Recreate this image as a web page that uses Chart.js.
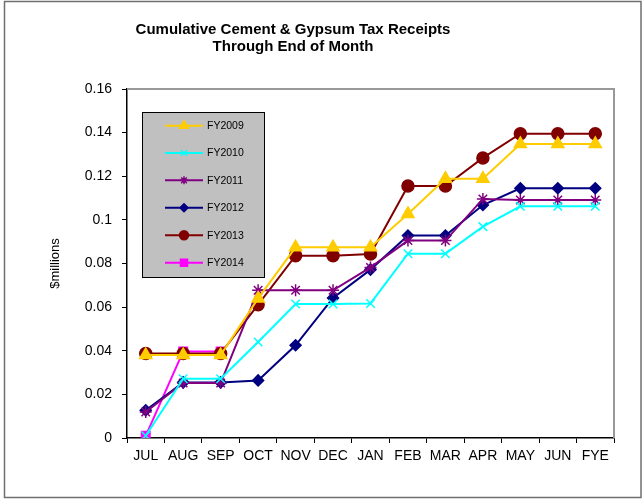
<!DOCTYPE html>
<html>
<head>
<meta charset="utf-8">
<script src="https://cdn.jsdelivr.net/npm/chart.js@4.4.0/dist/chart.umd.min.js"></script>
<style>
html,body{margin:0;padding:0;background:#fff;}
#wrap{width:642px;height:499px;position:relative;}
</style>
</head>
<body>
<div id="wrap"><canvas id="c" width="642" height="499"></canvas></div>
<script>
const months = ["JUL","AUG","SEP","OCT","NOV","DEC","JAN","FEB","MAR","APR","MAY","JUN","FYE"];
const fy2009 = [0.038,0.038,0.038,0.064,0.0874,0.0874,0.0874,0.1027,0.1189,0.1189,0.1348,0.1348,0.1348];
const fy2010 = [0.001,0.0272,0.0272,0.044,0.0614,0.0614,0.0617,0.0845,0.0845,0.0969,0.1062,0.1062,0.1062];
const fy2011 = [0.0119,0.0252,0.0252,0.0677,0.0677,0.0677,0.0782,0.0905,0.0905,0.1096,0.1091,0.1091,0.1091];
const fy2012 = [0.0127,0.0255,0.0255,0.0264,0.0425,0.0642,0.0772,0.0928,0.0928,0.1068,0.1145,0.1145,0.1145];
const fy2013 = [0.0387,0.0387,0.0387,0.0611,0.0836,0.0836,0.0844,0.1155,0.1155,0.1284,0.1395,0.1395,0.1395];
const fy2014 = [0.001,0.0397,0.0397,null,null,null,null,null,null,null,null,null,null];
const yTicks = [0,0.02,0.04,0.06,0.08,0.1,0.12,0.14,0.16];
const titleLines = ["Cumulative Cement & Gypsum Tax Receipts","Through End of Month"];

const FONT = "Arial, 'Liberation Sans', sans-serif";

function ds(label, data, color, style, radius, legendRadius){
  return {label, data, borderColor: color, backgroundColor: color, pointStyle: style,
    pointRadius: radius, pointHoverRadius: radius, borderWidth: 2, pointBorderWidth: 1.5,
    tension: 0, spanGaps: false, legendRadius};
}

const datasets = [
  ds("FY2009", fy2009, "#FFCC00", "triangle", 7, 5),
  ds("FY2010", fy2010, "#00FFFF", "crossRot", 6, 4),
  ds("FY2011", fy2011, "#800080", "star", 6, 4),
  ds("FY2012", fy2012, "#000080", "rectRot", 5.5, 4),
  ds("FY2013", fy2013, "#800000", "circle", 6, 4.5),
  ds("FY2014", fy2014, "#FF00FF", "rect", 6, 5)
];

const decor = {
  id: 'decor',
  beforeDraw(chart){
    const ctx = chart.ctx;
    ctx.save();
    ctx.fillStyle = '#fff';
    ctx.fillRect(0,0,chart.width,chart.height);
    ctx.strokeStyle = '#6f6f6f';
    ctx.lineWidth = 1.5;
    ctx.strokeRect(4.5,1.5,chart.width-5.5,chart.height-3);
    ctx.fillStyle = '#000';
    ctx.font = 'bold 15px ' + FONT;
    ctx.textAlign = 'center';
    ctx.textBaseline = 'middle';
    ctx.fillText(titleLines[0], 293, 30);
    ctx.fillText(titleLines[1], 293, 47);
    ctx.restore();
  },
  afterDatasetsDraw(chart){
    const ctx = chart.ctx;
    const a = chart.chartArea;
    ctx.save();
    ctx.strokeStyle = '#999';
    ctx.lineWidth = 2;
    ctx.beginPath();
    ctx.moveTo(a.left, a.top);
    ctx.lineTo(a.right, a.top);
    ctx.lineTo(a.right, a.bottom);
    ctx.stroke();
    // legend
    const bx = 142, by = 112, bw = 122, bh = 165;
    ctx.fillStyle = '#c0c0c0';
    ctx.fillRect(bx, by, bw, bh);
    ctx.strokeStyle = '#000';
    ctx.lineWidth = 1;
    ctx.strokeRect(bx+0.5, by+0.5, bw, bh);
    const ys = [125.7,153,180.3,207.7,235.3,262.7];
    chart.data.datasets.forEach((d,i)=>{
      const y = ys[i];
      ctx.strokeStyle = d.borderColor;
      ctx.lineWidth = 2;
      ctx.beginPath();
      ctx.moveTo(165, y);
      ctx.lineTo(203, y);
      ctx.stroke();
      ctx.fillStyle = d.borderColor;
      ctx.strokeStyle = d.borderColor;
      ctx.lineWidth = 1.5;
      Chart.helpers.drawPoint(ctx, {pointStyle: d.pointStyle, radius: d.legendRadius, rotation: 0, borderWidth: 1.5}, 184, y);
      ctx.fillStyle = '#000';
      ctx.font = '10.5px ' + FONT;
      ctx.textAlign = 'left';
      ctx.textBaseline = 'middle';
      ctx.fillText(d.label, 207, y+0.5);
    });
    ctx.restore();
  }
};

new Chart(document.getElementById('c'), {
  type: 'line',
  data: { labels: months, datasets },
  options: {
    responsive: false,
    animation: false,
    devicePixelRatio: 1,
    layout: { padding: { left: 0, top: 89, right: 28, bottom: 0 } },
    plugins: { legend: { display: false }, title: { display: false }, tooltip: { enabled: false } },
    scales: {
      x: {
        type: 'category',
        offset: true,
        afterFit(s){ s.height = 61; },
        grid: { offset: true, drawOnChartArea: false, drawTicks: true, tickLength: 5, color: '#000', lineWidth: 1 },
        border: { display: true, color: '#000', width: 1.5 },
        ticks: { color: '#000', font: { family: FONT, size: 14 }, padding: 5, maxRotation: 0, autoSkip: false }
      },
      y: {
        min: 0, max: 0.16,
        afterFit(s){ s.width = 127; },
        afterBuildTicks(s){ s.ticks = yTicks.map(v=>({value:v})); },
        grid: { drawOnChartArea: false, drawTicks: true, tickLength: 5, color: '#000', lineWidth: 1 },
        border: { display: true, color: '#000', width: 1.5 },
        ticks: { color: '#000', font: { family: FONT, size: 14 }, padding: 10,
          callback: v => String(+v.toFixed(2)) },
        title: { display: true, text: '$millions', color: '#000', font: { family: FONT, size: 13 }, padding: { top: 48, bottom: 0 } }
      }
    }
  },
  plugins: [decor]
});
</script>
</body>
</html>
